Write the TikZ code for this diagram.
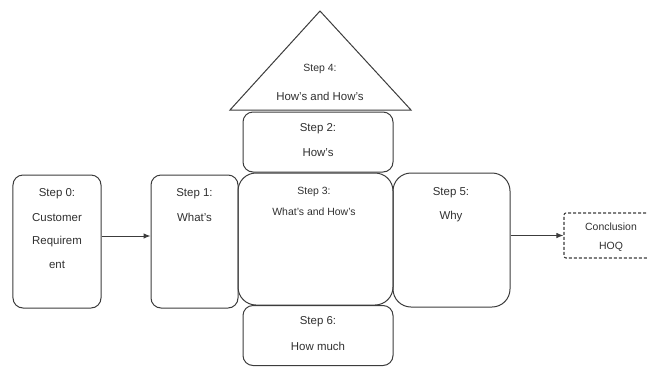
\documentclass[tikz,border=0pt]{standalone}
\usepackage{fontspec}
\setmainfont{Liberation Sans}
\usetikzlibrary{arrows.meta}
\definecolor{ln}{HTML}{3C3C3C}
\definecolor{tx}{HTML}{303030}
\tikzset{
  stepbox/.style={draw=ln, line width=1bp, rounded corners=10bp, inner sep=0pt},
  bigbox/.style={stepbox, rounded corners=18bp},
  lbl/.style={text=tx, font=\fontsize{11.5}{13}\selectfont, inner sep=0pt},
  slbl/.style={text=tx, font=\fontsize{10.5}{12}\selectfont, inner sep=0pt},
  arr/.style={draw=ln, line width=1bp, -{Latex[length=7bp,width=5.5bp]}},
  dbox/.style={draw=ln, line width=1.1bp, dash pattern=on 3bp off 2bp, rounded corners=2bp, inner sep=0pt}
}
\begin{document}
\begin{tikzpicture}[x=1bp,y=-1bp]
\useasboundingbox (0,0) rectangle (647,367);
\clip (0,0) rectangle (647,367);
% boxes
\node[stepbox, minimum width=88bp, minimum height=133bp] (s0) at (57,241.5) {};
\node[stepbox, minimum width=87bp, minimum height=133bp] (s1) at (194.5,241.5) {};
\node[bigbox, minimum width=155bp, minimum height=132bp] (s3) at (315.5,239) {};
\node[bigbox, minimum width=117bp, minimum height=134bp] (s5) at (451.5,240) {};
\node[stepbox, minimum width=150bp, minimum height=60bp] (s2) at (318,142) {};
\node[stepbox, minimum width=150bp, minimum height=60bp] (s6) at (318,335.5) {};
\node[dbox, minimum width=94bp, minimum height=45bp] (c) at (611,235.5) {};
% roof triangle
\coordinate (tA) at (320,11);
\coordinate (tL) at (230,110);
\coordinate (tR) at (411,110);
\draw[draw=ln, line width=1bp, line join=miter] (tA) -- (tL) -- (tR) -- cycle;
% texts
\node[lbl] (t0a) at (57,194) {Step 0:};
\node[lbl] (t0b) at (57,218) {Customer};
\node[lbl] (t0c) at (57,242) {Requirem};
\node[lbl] (t0d) at (57,265) {ent};
\node[lbl] (t1a) at (194.5,194) {Step 1:};
\node[lbl] (t1b) at (194.5,217) {What's};
\node[lbl, font=\fontsize{10.5}{12}\selectfont] (t3a) at (314,192) {Step 3:};
\node[lbl, font=\fontsize{10.5}{12}\selectfont] (t3b) at (314,212) {What's and How's};
\node[lbl] (t5a) at (451,193) {Step 5:};
\node[lbl] (t5b) at (451,217) {Why};
\node[lbl] (t2a) at (318,129) {Step 2:};
\node[lbl] (t2b) at (318,153) {How's};
\node[lbl] (t6a) at (318,322) {Step 6:};
\node[lbl] (t6b) at (318,346) {How much};
\node[lbl, font=\fontsize{10.5}{12}\selectfont] (t4a) at (320,69) {Step 4:};
\node[lbl] (t4b) at (320,96) {How's and How's};
\node[slbl] (tca) at (611,227) {Conclusion};
\node[slbl] (tcb) at (611,247) {HOQ};
% arrows
\coordinate (a0) at (0,236);
\draw[arr] (s0.east |- a0) -- (s1.west |- a0);
\draw[arr] (s5.east |- c) -- (c.west);
\end{tikzpicture}
\end{document}
